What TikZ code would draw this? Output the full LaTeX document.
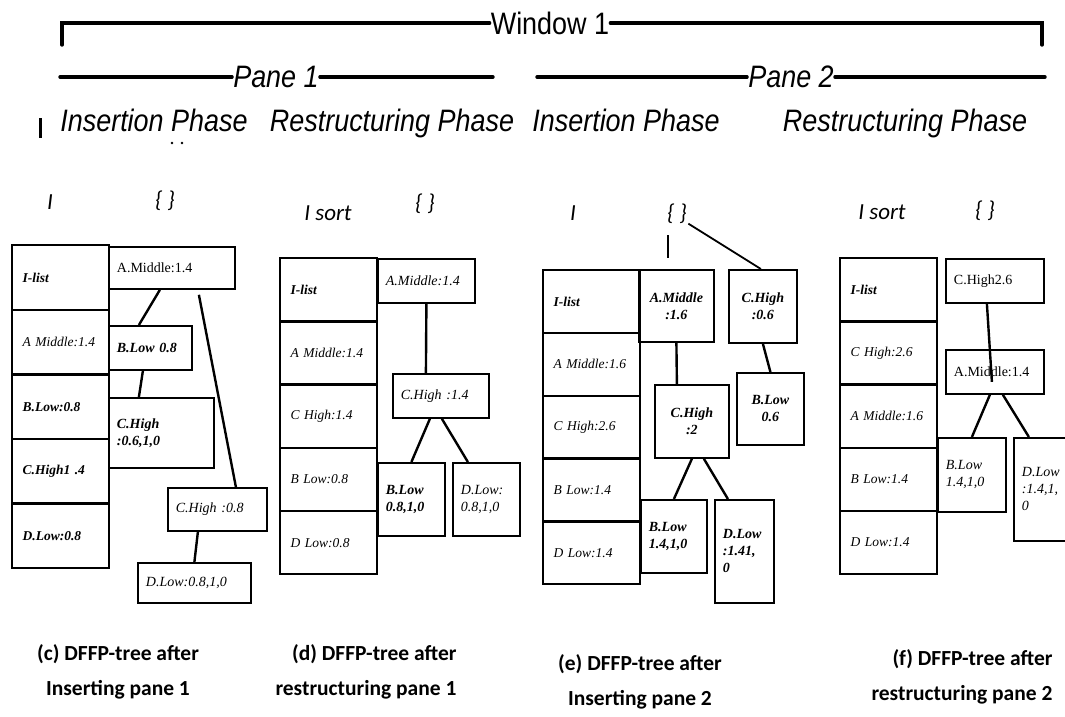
\documentclass[tikz,border=0pt]{standalone}
\usepackage{fontspec}
\setmainfont{Liberation Serif}
\newfontfamily\headfont[FakeStretch=0.87]{Liberation Sans}
\newfontfamily\capfont{Carlito}
\usetikzlibrary{positioning}
\tikzset{
  bar/.style={line width=3.4pt, line cap=round},
  head/.style={font=\headfont\fontsize{31}{34}\selectfont, inner sep=1pt},
  phase/.style={anchor=base, font=\headfont\itshape\fontsize{31}{34}\selectfont},
  setlbl/.style={anchor=base, font=\capfont\itshape\fontsize{23}{26}\selectfont},
  lrow/.style={draw, line width=2.4pt, anchor=north west, text width=76pt,
    inner xsep=10.5pt, align=left, font=\itshape\fontsize{13.5}{16}\selectfont},
  tbox/.style={draw, line width=1.8pt, anchor=north west, inner xsep=8pt,
    inner ysep=1pt, align=left, font=\itshape\fontsize{14}{17}\selectfont},
  tlink/.style={line width=2.4pt},
  caption/.style={font=\capfont\bfseries\fontsize{21.5}{35}\selectfont},
}
\begin{document}
\begin{tikzpicture}[x=1pt, y=-1pt]
  \useasboundingbox (0,0) rectangle (1065,716);
  \clip (0,0) rectangle (1065,716);

  % window and panes
  \node[head] (win) at (550,23) {Window 1};
  \coordinate (wl) at (62,45);
  \coordinate (wr) at (1042,45);
  \draw[bar] (wl) |- (win.west);
  \draw[bar] (win.east) -| (wr);
  \node[head, font=\headfont\itshape\fontsize{31}{34}\selectfont] (p1) at (276,77) {Pane 1};
  \node[head, font=\headfont\itshape\fontsize{31}{34}\selectfont] (p2) at (791,77) {Pane 2};
  \coordinate (p1l) at (60,77);
  \coordinate (p1r) at (493,77);
  \coordinate (p2l) at (537,77);
  \coordinate (p2r) at (1045,77);
  \draw[bar] (p1l) -- (p1.west);
  \draw[bar] (p1.east) -- (p1r);
  \draw[bar] (p2l) -- (p2.west);
  \draw[bar] (p2.east) -- (p2r);

  \node[phase] (ph1) at (154,131) {Insertion Phase};
  \node[phase] (ph2) at (392,131) {Restructuring Phase};
  \node[phase] (ph3) at (626,131) {Insertion Phase};
  \node[phase] (ph4) at (905,131) {Restructuring Phase};
  \draw[line width=3pt] (40,118) -- (40,138);
  \fill (172,143) circle (1.3pt) (182,143) circle (1.3pt);

  % (c) inserting pane 1
  \node[setlbl] (cI) at (50,209) {I};
  \node[setlbl] (cbr) at (165,207) {\{ \}};
  \node[lrow, minimum height=64.6pt] (c1) at (11,244) {\bfseries I-list};
  \node[lrow, minimum height=64.6pt] (c2) at (11,308.6) {A Middle:1.4};
  \node[lrow, minimum height=64.6pt] (c3) at (11,373.2) {\bfseries B.Low:0.8};
  \node[lrow, minimum height=64.6pt] (c4) at (11,437.8) {\bfseries C.High1 .4};
  \node[lrow, minimum height=64.6pt] (c5) at (11,502.4) {\bfseries D.Low:0.8};

  \node[tbox, text width=110pt, minimum height=42pt, font=\fontsize{14}{17}\selectfont] (cam) at (108,246) {A.Middle:1.4};
  \node[tbox, text width=67pt, minimum height=44pt, font=\bfseries\itshape\fontsize{14}{17}\selectfont] (cbl) at (108,325) {B.Low 0.8};
  \node[tbox, text width=89pt, minimum height=70pt, font=\bfseries\itshape\fontsize{14}{17}\selectfont] (cch) at (108,397) {C.High\\:0.6,1,0};
  \node[tbox, text width=83pt, minimum height=43pt] (cch2) at (167,487) {C.High :0.8};
  \node[tbox, text width=97pt, minimum height=40pt] (cdl) at (137,562) {D.Low:0.8,1,0};
  \draw[tlink] ([xshift=-12pt]cam.south) -- ([xshift=-11.5pt]cbl.north);
  \draw[tlink] ([xshift=-7.5pt]cbl.south) -- ([xshift=-22.5pt]cch.north);
  \draw[tlink] ([xshift=27pt,yshift=-5pt]cam.south) -- ([xshift=18.5pt]cch2.north);
  \draw[tlink] ([xshift=-19.5pt]cch2.south) -- (cdl.north);

  % (d) restructuring pane 1
  \node[setlbl] (dI) at (328,220) {I sort};
  \node[setlbl] (dbr) at (425,210) {\{ \}};
  \node[lrow, minimum height=63.2pt] (d1) at (279,257) {\bfseries I-list};
  \node[lrow, minimum height=63.2pt] (d2) at (279,320.2) {A Middle:1.4};
  \node[lrow, minimum height=63.2pt] (d3) at (279,383.4) {C High:1.4};
  \node[lrow, minimum height=63.2pt] (d4) at (279,446.6) {B Low:0.8};
  \node[lrow, minimum height=63.2pt] (d5) at (279,509.8) {D Low:0.8};

  \node[tbox, text width=81pt, minimum height=44pt] (dam) at (377,258) {A.Middle:1.4};
  \node[tbox, text width=80pt, minimum height=44pt] (dch) at (392,373) {C.High :1.4};
  \node[tbox, text width=51pt, minimum height=73pt, font=\bfseries\itshape\fontsize{14}{17}\selectfont] (dbl) at (377,462) {B.Low\\0.8,1,0};
  \node[tbox, text width=51pt, minimum height=73pt] (ddl) at (452,462) {D.Low:\\0.8,1,0};
  \draw[tlink] (dam.south) -- ([xshift=-15pt]dch.north);
  \draw[tlink] ([xshift=-11pt]dch.south) -- (dbl.north);
  \draw[tlink] ([xshift=1pt]dch.south) -- ([xshift=-18.5pt]ddl.north);

  % (e) inserting pane 2
  \node[setlbl] (eI) at (573,220) {I};
  \node[setlbl] (ebr) at (677,220) {\{ \}};
  \node[lrow, minimum height=62.8pt] (e1) at (542,269) {\bfseries I-list};
  \node[lrow, minimum height=62.8pt] (e2) at (542,331.8) {A Middle:1.6};
  \node[lrow, minimum height=62.8pt] (e3) at (542,394.6) {C High:2.6};
  \node[lrow, minimum height=62.8pt] (e4) at (542,457.4) {B Low:1.4};
  \node[lrow, minimum height=62.8pt] (e5) at (542,520.2) {D Low:1.4};

  \node[tbox, text width=59pt, minimum height=72pt, align=center, font=\bfseries\itshape\fontsize{14}{17}\selectfont] (eam) at (638,269) {A.Middle\\:1.6};
  \node[tbox, text width=52pt, minimum height=73pt, align=center, font=\bfseries\itshape\fontsize{14}{17}\selectfont] (ech6) at (728,269) {C.High\\:0.6};
  \node[tbox, text width=58pt, minimum height=73pt, align=center, font=\bfseries\itshape\fontsize{14}{17}\selectfont] (ech2) at (654,384) {C.High\\:2};
  \node[tbox, text width=51pt, minimum height=72pt, align=center, font=\bfseries\itshape\fontsize{14}{17}\selectfont] (ebl6) at (736,372) {B.Low\\0.6};
  \node[tbox, text width=50pt, minimum height=73pt, font=\bfseries\itshape\fontsize{14}{17}\selectfont] (ebl) at (640,499) {B.Low\\1.4,1,0};
  \node[tbox, text width=43pt, minimum height=103pt, font=\bfseries\itshape\fontsize{14}{17}\selectfont] (edl) at (714,499) {D.Low\\:1.41,\\0};
  \draw[line width=1.5pt] (668,235) -- (668,258);
  \draw[line width=1.8pt] ([xshift=-2pt,yshift=3pt]ebr.south east) -- ([xshift=-2pt]ech6.north);
  \draw[tlink] (eam.south) -- ([xshift=-15pt]ech2.north);
  \draw[tlink] (ech6.south) -- (ebl6.north);
  \draw[tlink] (ech2.south) -- (ebl.north);
  \draw[tlink] ([xshift=12pt]ech2.south) -- ([xshift=-16.5pt]edl.north);

  % (f) restructuring pane 2
  \node[setlbl] (fI) at (882,219) {I sort};
  \node[setlbl] (fbr) at (985,217) {\{ \}};
  \node[lrow, minimum height=63.2pt] (f1) at (839,257) {\bfseries I-list};
  \node[lrow, minimum height=63.2pt] (f2) at (839,320.2) {C High:2.6};
  \node[lrow, minimum height=63.2pt] (f3) at (839,383.4) {A Middle:1.6};
  \node[lrow, minimum height=63.2pt] (f4) at (839,446.6) {B Low:1.4};
  \node[lrow, minimum height=63.2pt] (f5) at (839,509.8) {D Low:1.4};

  \node[tbox, text width=82pt, minimum height=44pt, font=\fontsize{14}{17}\selectfont] (fch) at (945,258) {C.High2.6};
  \node[tbox, text width=82pt, minimum height=44pt, font=\fontsize{14}{17}\selectfont] (fam) at (945,349) {A.Middle:1.4};
  \node[tbox, text width=52pt, minimum height=74pt] (fbl) at (937,437) {B.Low\\1.4,1,0};
  \node[tbox, text width=51pt, minimum height=103pt] (fdl) at (1013,437) {D.Low\\:1.4,1,\\0};
  \draw[tlink] ([xshift=-8pt]fch.south) -- ([xshift=-3pt,yshift=13pt]fam.south);
  \draw[tlink] ([xshift=-5pt]fam.south) -- (fbl.north);
  \draw[tlink] ([xshift=8pt]fam.south) -- ([xshift=-18.5pt]fdl.north);

  % captions
  \node[caption, align=center] (capc) at (118,672) {(c) DFFP-tree after\\Inserting pane 1};
  \node[caption, align=right, anchor=east] (capd) at (460,672) {(d) DFFP-tree after\\restructuring pane 1};
  \node[caption, align=center] (cape) at (640,682) {(e) DFFP-tree after\\Inserting pane 2};
  \node[caption, align=right, anchor=east] (capf) at (1056,677) {(f) DFFP-tree after\\restructuring pane 2};
\end{tikzpicture}
\end{document}
